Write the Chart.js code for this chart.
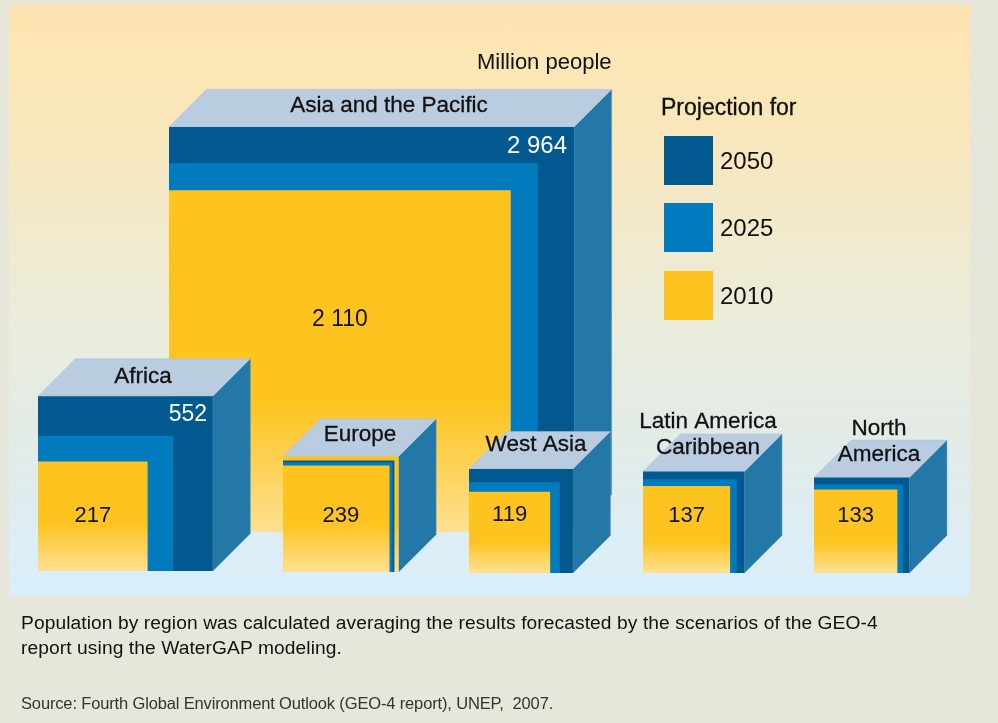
<!DOCTYPE html>
<html>
<head>
<meta charset="utf-8">
<title>Population by region</title>
<script src="https://cdn.jsdelivr.net/npm/chart.js@4"></script>
<style>
  html, body { margin: 0; padding: 0; }
  body { width: 998px; height: 723px; background: #e7e6da; position: relative; overflow: hidden;
         font-family: "Liberation Sans", sans-serif; color: #111; }
  #panel { position: absolute; left: 9px; top: 5px; width: 961px; height: 590px;
           background: linear-gradient(to bottom, #fde5b0 0%, #f9e7ba 20%, #e9ecdf 58%, #e3ebe6 72%, #d9eefb 100%); }
  #chart { position: absolute; left: 0; top: 0; }
  .txt { position: absolute; white-space: nowrap; }
  .swatch { position: absolute; left: 664px; width: 49px; height: 49px; }
</style>
</head>
<body>
<div id="panel"></div>
<canvas id="chart" width="998" height="723"></canvas>
<div class="txt" style="left:477px;top:49px;font-size:22px">Million people</div>
<div class="txt" style="left:661px;top:94px;font-size:23px;-webkit-text-stroke:0.3px #111">Projection for</div>
<div id="legend"></div>
<div class="txt" style="left:21px;top:610px;font-size:19.2px;letter-spacing:0.09px;line-height:25px">Population by region was calculated averaging the results forecasted by the scenarios of the GEO-4<br>report using the WaterGAP modeling.</div>
<div class="txt" style="left:21px;top:694px;font-size:16.5px;letter-spacing:-0.15px;color:#333">Source: Fourth Global Environment Outlook (GEO-4 report), UNEP,&nbsp; 2007.</div>
<script>
const regions = ["Asia and the Pacific", "Africa", "Europe", "West Asia", "Latin America\nCaribbean", "North\nAmerica"];
const pop2050 = [2964, 552, 222, 195, 186, 174];
const pop2025 = [2458, 331, 215, 149, 159, 151];
const pop2010 = [2110, 217, 239, 119, 137, 133];
// Europe shrinks, so its 2010 square sits behind the others and shows again in front
const pop2010Front = [null, null, 203, null, null, null];
const years = ["2050", "2025", "2010"];

// layout only, in scale units (1 unit = 1px)
const boxLeft = [169, 38, 283, 469, 643, 814];
const boxBase = [191, 152, 151, 150, 150, 150];
const boxScale = [1, 1, 1.005, 1, 1, 0.972];
const fadeLength = [130, 48, 48, 32, 32, 32];
const labelCenter = [389, 143, 360, 536, 708, 879];
const labelTop = [[106], [377], [435], [445], [422, 448], [429, 455]];
const valueY = [320, 516, 516, 515, 516, 516];
const totalAt = [[567, 146], [207, 415]];
const DEPTH = 37.5;
const PX_PER_ROOT = 7.44;

const colors = { 2050: "#01598f", 2025: "#017abe", 2010: "#fdc41f", side: "#2378a8", top: "#b9cce0" };

function side(value, i) {
  return PX_PER_ROOT * boxScale[i] * Math.sqrt(value);
}

function face(value, i, color, fade) {
  const l = boxLeft[i], b = boxBase[i], s = side(value, i);
  return { data: [{ x: l, y: b }, { x: l + s, y: b }, { x: l + s, y: b + s }, { x: l, y: b + s }],
           fill: color, fade };
}

const polygons = [];
regions.forEach((name, i) => {
  const biggest = Math.max(pop2050[i], pop2025[i], pop2010[i]);
  const l = boxLeft[i], b = boxBase[i], s = side(biggest, i);
  polygons.push({ data: [{ x: l + s, y: b }, { x: l + s + DEPTH, y: b + DEPTH }, { x: l + s + DEPTH, y: b + s + DEPTH }, { x: l + s, y: b + s }],
                  fill: colors.side, edge: "#4f90b8" });
  polygons.push({ data: [{ x: l, y: b + s }, { x: l + s, y: b + s }, { x: l + s + DEPTH, y: b + s + DEPTH }, { x: l + DEPTH, y: b + s + DEPTH }],
                  fill: colors.top, edge: "#a5bfd8" });
  const layers = [[pop2050[i], colors[2050], 0], [pop2025[i], colors[2025], 0], [pop2010[i], colors[2010], fadeLength[i]]];
  if (pop2010Front[i]) layers.push([pop2010Front[i], colors[2010], fadeLength[i]]);
  layers.sort((a, b2) => b2[0] - a[0]);
  layers.forEach(layer => polygons.push(face(layer[0], i, layer[1], layer[2])));
});

// fills each dataset as a closed shape, using the pixels the scales gave its points
const polygonFill = {
  id: "polygonFill",
  beforeDatasetDraw(chart, args) {
    const ds = chart.data.datasets[args.index];
    const pts = args.meta.data;
    const ctx = chart.ctx;
    ctx.save();
    ctx.beginPath();
    pts.forEach((p, n) => (n ? ctx.lineTo(p.x, p.y) : ctx.moveTo(p.x, p.y)));
    ctx.closePath();
    if (ds.fade) {
      const bottom = pts[0].y;
      const top = pts[2].y;
      const stop = 1 - ds.fade / (bottom - top);
      const g = ctx.createLinearGradient(0, top, 0, bottom);
      g.addColorStop(0, ds.polyFill);
      g.addColorStop(stop, ds.polyFill);
      g.addColorStop(1, "#fee092");
      ctx.fillStyle = g;
    } else {
      ctx.fillStyle = ds.polyFill;
    }
    ctx.fill();
    if (ds.edge) {
      ctx.strokeStyle = ds.edge;
      ctx.lineWidth = 0.5;
      ctx.stroke();
    }
    ctx.restore();
    return false;
  },
  afterDraw(chart) {
    const ctx = chart.ctx;
    const xs = chart.scales.x;
    ctx.save();
    ctx.textAlign = "center";
    ctx.textBaseline = "middle";
    ctx.fillStyle = "#111";
    ctx.strokeStyle = "#111";
    ctx.lineWidth = 0.3;
    regions.forEach((name, i) => {
      ctx.font = "22.5px 'Liberation Sans', sans-serif";
      name.split("\n").forEach((line, n) => {
        ctx.fillText(line, labelCenter[i], labelTop[i][n]);
        ctx.strokeText(line, labelCenter[i], labelTop[i][n]);
      });
      ctx.font = i === 0 ? "23px 'Liberation Sans', sans-serif" : "22px 'Liberation Sans', sans-serif";
      const label = String(pop2010[i]).replace(/(\d)(\d{3})$/, "$1 $2");
      ctx.fillText(label, xs.getPixelForValue(boxLeft[i] + side(pop2010[i], i) / 2), valueY[i]);
    });
    ctx.fillStyle = "#fff";
    ctx.textAlign = "right";
    ctx.font = "24px 'Liberation Sans', sans-serif";
    ctx.fillText("2 964", totalAt[0][0], totalAt[0][1]);
    ctx.font = "23px 'Liberation Sans', sans-serif";
    ctx.fillText(String(pop2050[1]), totalAt[1][0], totalAt[1][1]);
    ctx.restore();
  }
};

new Chart(document.getElementById("chart"), {
  type: "scatter",
  data: {
    datasets: polygons.map((p, n) => ({
      data: p.data,
      polyFill: p.fill,
      edge: p.edge,
      fade: p.fade,
      order: -n,
      pointRadius: 0,
      showLine: false
    }))
  },
  options: {
    responsive: false,
    animation: false,
    events: [],
    layout: { padding: 0 },
    plugins: { legend: { display: false }, tooltip: { enabled: false } },
    scales: {
      x: { type: "linear", min: 0, max: 998, display: false },
      y: { type: "linear", min: 0, max: 723, display: false }
    }
  },
  plugins: [polygonFill]
});

const swatchTop = [136, 203, 271];
years.forEach((year, i) => {
  const box = document.createElement("div");
  box.className = "swatch";
  box.style.top = swatchTop[i] + "px";
  box.style.background = colors[year];
  document.getElementById("legend").appendChild(box);
  const text = document.createElement("div");
  text.className = "txt";
  text.textContent = year;
  text.style.cssText = "left:720px;font-size:24px;top:" + (swatchTop[i] + 11) + "px";
  document.getElementById("legend").appendChild(text);
});
</script>
</body>
</html>
